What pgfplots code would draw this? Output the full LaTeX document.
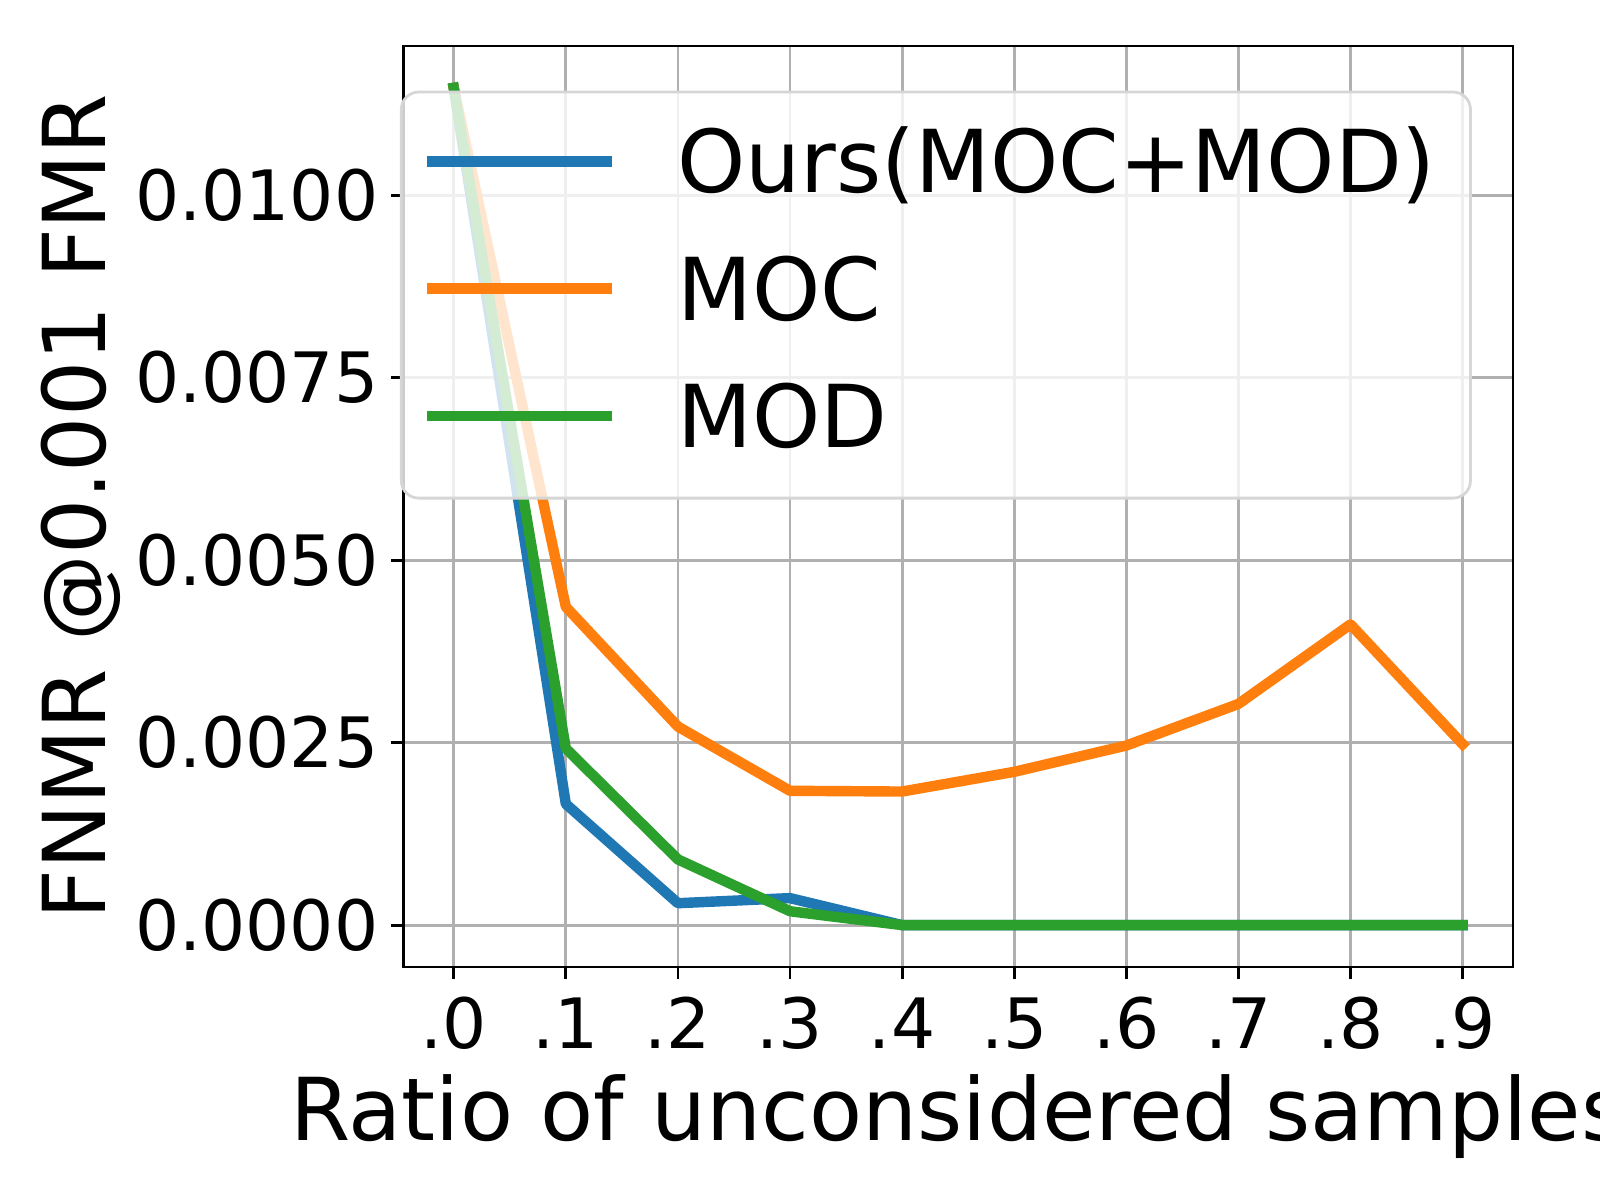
\documentclass[border=0pt]{standalone}
\usepackage{fontspec}
\setmainfont{DejaVu Sans}
\usepackage{pgfplots}
\pgfplotsset{compat=1.18}
\definecolor{tabblue}{HTML}{1F77B4}
\definecolor{taborange}{HTML}{FF7F0E}
\definecolor{tabgreen}{HTML}{2CA02C}
\definecolor{gridgray}{HTML}{B0B0B0}
\definecolor{leggray}{HTML}{D6D6D6}
\begin{document}
\begin{tikzpicture}
\useasboundingbox (0,0) rectangle (460.8bp,345.6bp);
\clip (0,0) rectangle (460.8bp,345.6bp);
\begin{axis}[
  at={(116.15bp,67.1bp)}, anchor=south west,
  scale only axis, width=319.6bp, height=265.25bp,
  xmin=-0.045, xmax=0.945, ymin=-0.000574, ymax=0.012044,
  xtick={0,0.1,0.2,0.3,0.4,0.5,0.6,0.7,0.8,0.9},
  xticklabels={.0,.1,.2,.3,.4,.5,.6,.7,.8,.9},
  ytick={0,0.0025,0.005,0.0075,0.01},
  yticklabels={0.0000,0.0025,0.0050,0.0075,0.0100},
  scaled y ticks=false, scaled x ticks=false,
  /pgf/number format/assume math mode=true,
  tick align=outside, major tick length=3.5bp,
  xtick pos=left, ytick pos=left,
  tick style={black, line width=0.8bp},
  axis line style={line width=0.8bp, black},
  grid=major, major grid style={gridgray, line width=0.8bp},
  ticklabel style={font=\fontsize{20.075}{24}\selectfont, inner sep=0pt},
  yticklabel style={anchor=east, xshift=-3.5bp},
  xticklabel style={anchor=north, yshift=-5.05bp},
  xlabel={Ratio of unconsidered samples},
  ylabel={FNMR @0.001 FMR},
  label style={font=\fontsize{25.09}{30}\selectfont, inner sep=0pt},
  xlabel style={at={(axis description cs:0.5,-0.1879)}, anchor=base},
  ylabel style={at={(axis description cs:-0.2688,0.5)}, anchor=base},
  legend cell align=left,
  legend image code/.code={\draw[#1, line width=3bp, line cap=butt] (0bp,0bp) -- (53.2bp,0bp); \path[draw=none,fill=none] (0bp,-12.87bp) rectangle (53.2bp,9.1bp);},
  legend style={at={(axis description cs:-0.003,0.9515)}, anchor=north west,
    draw=leggray, line width=0.8bp, fill=white, fill opacity=0.8, text opacity=1,
    rounded corners=5bp, inner xsep=6bp, inner ysep=10.86bp,
    row sep=14.66bp, column sep=17.25bp,
    font=\fontsize{25.09}{30}\selectfont,
    nodes={inner sep=0pt, text height=18.2bp, text depth=0bp}},
]
\addplot[tabblue, line width=3bp, line cap=rect, line join=round] coordinates {
 (0,0.01147) (0.1,0.00166) (0.2,0.00030) (0.3,0.00037) (0.4,0) (0.5,0) (0.6,0) (0.7,0) (0.8,0) (0.9,0)};
\addlegendentry{Ours(MOC+MOD)\rule{4bp}{0pt}}
\addplot[taborange, line width=3bp, line cap=rect, line join=round] coordinates {
 (0,0.01147) (0.1,0.00436) (0.2,0.00272) (0.3,0.00184) (0.4,0.00183) (0.5,0.00210) (0.6,0.00246) (0.7,0.00303) (0.8,0.00412) (0.9,0.00248)};
\addlegendentry{MOC}
\addplot[tabgreen, line width=3bp, line cap=rect, line join=round] coordinates {
 (0,0.01147) (0.1,0.00242) (0.2,0.00090) (0.3,0.00019) (0.4,0) (0.5,0) (0.6,0) (0.7,0) (0.8,0) (0.9,0)};
\addlegendentry{MOD}
\end{axis}
\end{tikzpicture}
\end{document}
